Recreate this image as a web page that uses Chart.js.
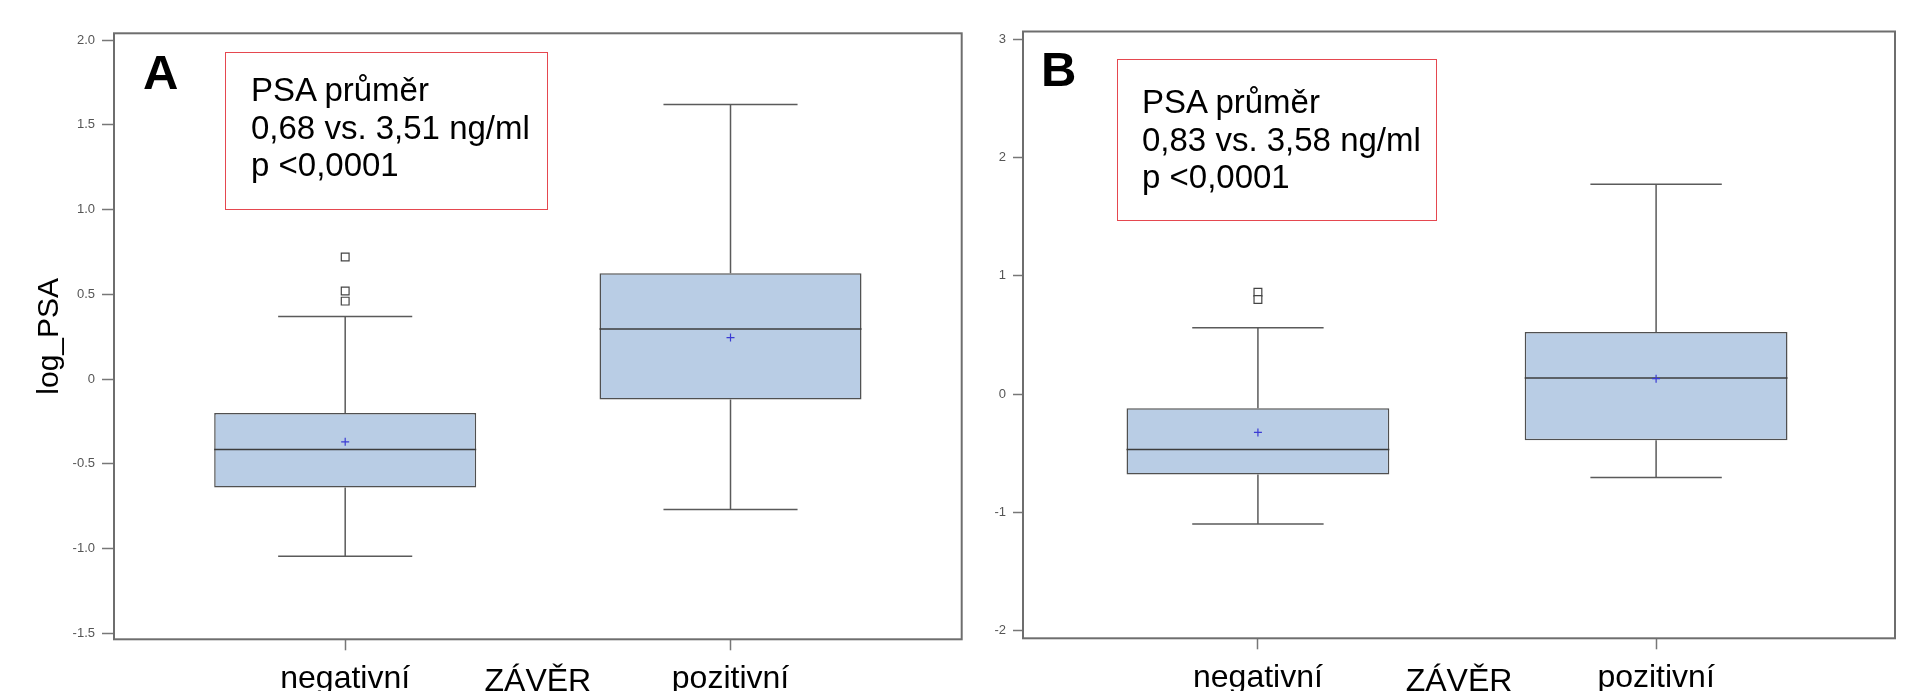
<!DOCTYPE html>
<html>
<head>
<meta charset="utf-8">
<script src="https://cdn.jsdelivr.net/npm/chart.js@4.4.1/dist/chart.umd.min.js"></script>
<style>
  html, body { margin: 0; padding: 0; width: 1908px; height: 691px; overflow: hidden; background: #fff; }
  canvas { position: absolute; top: 0; }
  #chart-a { left: 0; }
  #chart-b { left: 975px; }
  .note { position: absolute; border: 1.5px solid #e5474f; box-sizing: border-box; }
  .note-text { position: absolute; font: 33px "Liberation Sans", Arial, sans-serif; line-height: 37.5px; color: #000; white-space: nowrap; }
  .panel-letter { position: absolute; font: bold 49px "Liberation Sans", Arial, sans-serif; line-height: 49px; color: #000; }
</style>
</head>
<body>
<canvas id="chart-a" width="975" height="720"></canvas>
<canvas id="chart-b" width="933" height="720"></canvas>

<div class="panel-letter" style="left:143px; top:48px;">A</div>
<div class="note" style="left:225px; top:52px; width:323px; height:158px;"></div>
<div class="note-text" style="left:251px; top:71px;">PSA průměr<br>0,68 vs. 3,51 ng/ml<br>p &lt;0,0001</div>

<div class="panel-letter" style="left:1041px; top:45px;">B</div>
<div class="note" style="left:1117px; top:59px; width:320px; height:162px;"></div>
<div class="note-text" style="left:1142px; top:83px;">PSA průměr<br>0,83 vs. 3,58 ng/ml<br>p &lt;0,0001</div>

<script>
// Categories (ZÁVĚR)
const categories = ['negativní', 'pozitivní'];

// Panel A: log_PSA box plot statistics
const a_whisker_low = [-1.045, -0.77];
const a_q1 = [-0.64, -0.12];
const a_median = [-0.415, 0.295];
const a_q3 = [-0.20, 0.625];
const a_whisker_high = [0.37, 1.62];
const a_mean = [-0.37, 0.245];
const a_outliers = [[0.72, 0.52, 0.46], []];
const a_ticks = [-1.5, -1.0, -0.5, 0, 0.5, 1.0, 1.5, 2.0];
const a_tick_labels = ['-1.5', '-1.0', '-0.5', '0', '0.5', '1.0', '1.5', '2.0'];

// Panel B
const b_whisker_low = [-1.10, -0.705];
const b_q1 = [-0.68, -0.39];
const b_median = [-0.47, 0.135];
const b_q3 = [-0.12, 0.525];
const b_whisker_high = [0.56, 1.775];
const b_mean = [-0.325, 0.13];
const b_outliers = [[0.86, 0.80], []];
const b_ticks = [-2, -1, 0, 1, 2, 3];
const b_tick_labels = ['-2', '-1', '0', '1', '2', '3'];

Chart.defaults.font.family = '"Liberation Sans", Arial, sans-serif';
Chart.defaults.animation = false;

const box_fill = '#b9cde5';
const box_line = '#505050';
const whisker_line = '#5a5a5a';
const median_line = '#3c3c3c';
const mean_color = '#3b3bd4';
const axis_grey = '#777777';

// draws the plot frame round the chart area
const framePlugin = {
  id: 'frame',
  beforeDatasetsDraw(chart) {
    const {ctx, chartArea: {left, top, right, bottom}} = chart;
    ctx.save();
    ctx.strokeStyle = '#6e6e6e';
    ctx.lineWidth = 2;
    ctx.strokeRect(left, top, right - left, bottom - top);
    ctx.restore();
  }
};

// one line dataset per straight segment
function segment(p1, p2, color, order) {
  return {
    type: 'line',
    data: [p1, p2],
    borderColor: color,
    borderWidth: 1.5,
    pointRadius: 0,
    order: order
  };
}

function buildDatasets(stats, boxHalf, capHalf) {
  const datasets = [];

  // boxes (q1 to q3) as floating bars
  datasets.push({
    type: 'bar',
    data: categories.map((c, i) => ({x: i, y: [stats.q1[i], stats.q3[i]]})),
    backgroundColor: box_fill,
    borderColor: box_line,
    borderWidth: 1.5,
    borderSkipped: false,
    categoryPercentage: 1,
    barPercentage: boxHalf * 2,
    order: 3
  });

  categories.forEach((c, i) => {
    // whiskers + caps
    datasets.push(segment({x: i, y: stats.q3[i]}, {x: i, y: stats.high[i]}, whisker_line, 2));
    datasets.push(segment({x: i - capHalf, y: stats.high[i]}, {x: i + capHalf, y: stats.high[i]}, whisker_line, 2));
    datasets.push(segment({x: i, y: stats.q1[i]}, {x: i, y: stats.low[i]}, whisker_line, 2));
    datasets.push(segment({x: i - capHalf, y: stats.low[i]}, {x: i + capHalf, y: stats.low[i]}, whisker_line, 2));
    // median
    datasets.push(segment({x: i - boxHalf, y: stats.median[i]}, {x: i + boxHalf, y: stats.median[i]}, median_line, 1));
  });

  // means
  datasets.push({
    type: 'line',
    data: categories.map((c, i) => ({x: i, y: stats.mean[i]})),
    showLine: false,
    pointStyle: 'cross',
    pointRadius: 4,
    borderColor: mean_color,
    borderWidth: 1.2,
    order: 0
  });

  // outliers
  const outliers = [];
  categories.forEach((c, i) => {
    stats.outliers[i].forEach(v => outliers.push({x: i, y: v}));
  });
  datasets.push({
    type: 'line',
    data: outliers,
    showLine: false,
    pointStyle: 'rect',
    pointRadius: 5.5,
    backgroundColor: '#ffffff',
    borderColor: '#444444',
    borderWidth: 1.2,
    order: 0
  });

  return datasets;
}

function createBoxChart(canvasId, stats, cfg) {
  const ctx = document.getElementById(canvasId);
  return new Chart(ctx, {
    type: 'bar',
    plugins: [framePlugin],
    data: {
      datasets: buildDatasets(stats, cfg.boxHalf, cfg.capHalf)
    },
    options: {
      responsive: false,
      events: [],
      layout: {
        padding: {top: cfg.padTop, right: cfg.padRight, left: 0, bottom: 0}
      },
      plugins: {
        legend: {display: false},
        tooltip: {enabled: false}
      },
      scales: {
        x: {
          type: 'linear',
          min: cfg.xMin,
          max: cfg.xMax,
          offset: false,
          afterBuildTicks: s => { s.ticks = categories.map((c, i) => ({value: i})); },
          afterFit: s => { s.height = cfg.xAxisHeight; },
          border: {display: false},
          grid: {
            offset: false,
            drawOnChartArea: false,
            drawTicks: true,
            tickLength: 11,
            tickColor: axis_grey,
            tickWidth: 1.5
          },
          ticks: {
            callback: v => categories[v],
            color: '#000',
            font: {size: 32},
            padding: 10,
            maxRotation: 0,
            autoSkip: false
          },
          title: {
            display: true,
            text: 'ZÁVĚR',
            color: '#000',
            font: {size: 32},
            padding: {top: 0, bottom: 19}
          }
        },
        y: {
          type: 'linear',
          min: cfg.yMin,
          max: cfg.yMax,
          afterBuildTicks: s => { s.ticks = cfg.ticks.map(v => ({value: v})); },
          afterFit: s => { s.width = cfg.yAxisWidth; },
          border: {display: false},
          grid: {
            drawOnChartArea: false,
            drawTicks: true,
            tickLength: cfg.yTickLength,
            tickColor: axis_grey,
            tickWidth: 1.5
          },
          ticks: {
            callback: v => cfg.tickLabels[cfg.ticks.indexOf(v)],
            color: '#555',
            font: {size: 13},
            padding: cfg.yTickPadding,
            autoSkip: false
          },
          title: {
            display: !!cfg.yTitle,
            text: cfg.yTitle || '',
            color: '#000',
            font: {size: 30},
            padding: {top: 32, bottom: 0}
          }
        }
      }
    }
  });
}

createBoxChart('chart-a', {
  low: a_whisker_low, q1: a_q1, median: a_median, q3: a_q3,
  high: a_whisker_high, mean: a_mean, outliers: a_outliers
}, {
  xMin: -0.6, xMax: 1.6, boxHalf: 0.34, capHalf: 0.174,
  yMin: -1.535, yMax: 2.04, ticks: a_ticks, tickLabels: a_tick_labels,
  yAxisWidth: 114, yTickLength: 12, yTickPadding: 7,
  xAxisHeight: 80.7, padTop: 33.3, padRight: 13.3,
  yTitle: 'log_PSA'
});

createBoxChart('chart-b', {
  low: b_whisker_low, q1: b_q1, median: b_median, q3: b_q3,
  high: b_whisker_high, mean: b_mean, outliers: b_outliers
}, {
  xMin: -0.59, xMax: 1.6, boxHalf: 0.33, capHalf: 0.165,
  yMin: -2.066, yMax: 3.066, ticks: b_ticks, tickLabels: b_tick_labels,
  yAxisWidth: 48, yTickLength: 10, yTickPadding: 7,
  xAxisHeight: 81.7, padTop: 31.5, padRight: 13,
  yTitle: null
});
</script>
</body>
</html>
